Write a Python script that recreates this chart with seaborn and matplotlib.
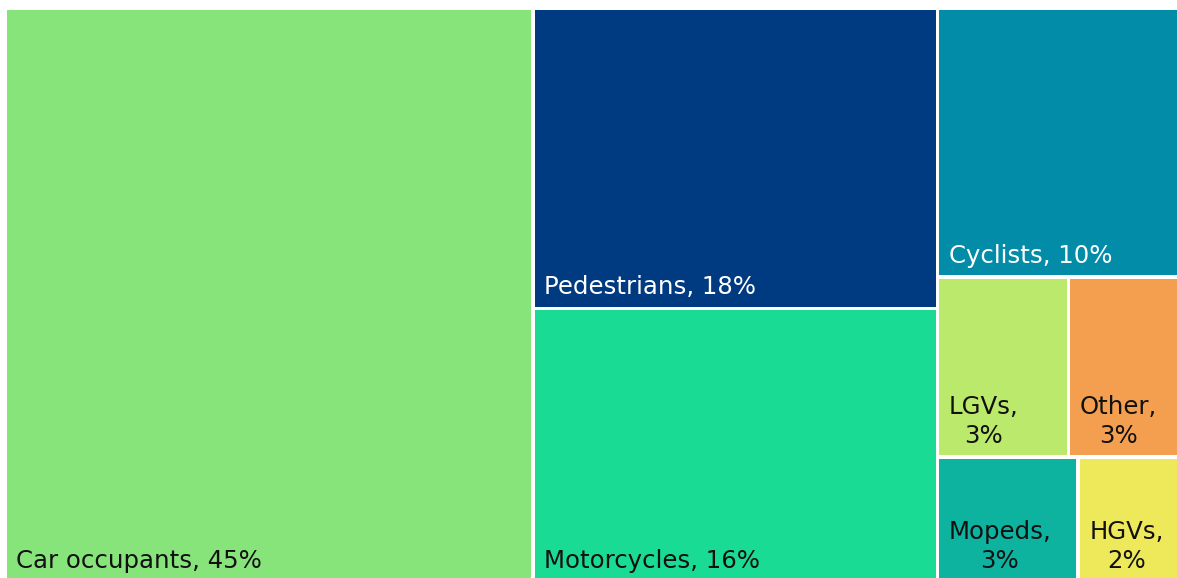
import matplotlib
matplotlib.use("Agg")
import matplotlib.pyplot as plt
from matplotlib.patches import Rectangle
import seaborn as sns

# ---- data ----
categories = ["Car occupants", "Pedestrians", "Motorcycles", "Cyclists",
              "LGVs", "Other", "Mopeds", "HGVs"]
shares = [44.9, 18.0, 16.4, 9.7, 3.5, 3.0, 2.6, 1.9]
pct_labels = ["45%", "18%", "16%", "10%", "3%", "3%", "3%", "2%"]
label_breaks = [" ", " ", " ", " ", "\n", "\n", "\n", "\n"]
colors = ["#86E47A", "#003A80", "#1ADB93", "#038CA8",
          "#BBE96B", "#F39F4F", "#0EB3A0", "#EEE85B"]
text_colors = ["#111111", "white", "#111111", "white",
               "#111111", "#111111", "#111111", "#111111"]

# ---- squarified treemap layout ----
def normalize(values, dx, dy):
    total = sum(values)
    return [v * dx * dy / total for v in values]

def layout_col(sizes, x, y, dx, dy):
    width = sum(sizes) / dy
    out = []
    for s in sizes:
        out.append((x, y, width, s / width))
        y += s / width
    return out

def layout_row(sizes, x, y, dx, dy):
    height = sum(sizes) / dx
    out = []
    for s in sizes:
        out.append((x, y, s / height, height))
        x += s / height
    return out

def layout(sizes, x, y, dx, dy):
    return layout_col(sizes, x, y, dx, dy) if dx >= dy else layout_row(sizes, x, y, dx, dy)

def leftover(sizes, x, y, dx, dy):
    covered = sum(sizes)
    if dx >= dy:
        w = covered / dy
        return x + w, y, dx - w, dy
    h = covered / dx
    return x, y + h, dx, dy - h

def worst(sizes, x, y, dx, dy):
    return max(max(r[2] / r[3], r[3] / r[2]) for r in layout(sizes, x, y, dx, dy))

def squarify(sizes, x, y, dx, dy):
    sizes = list(sizes)
    if not sizes:
        return []
    if len(sizes) == 1:
        return layout(sizes, x, y, dx, dy)
    i = 1
    while i < len(sizes) and worst(sizes[:i], x, y, dx, dy) >= worst(sizes[:i + 1], x, y, dx, dy):
        i += 1
    cur, rem = sizes[:i], sizes[i:]
    lx, ly, ldx, ldy = leftover(cur, x, y, dx, dy)
    return layout(cur, x, y, dx, dy) + squarify(rem, lx, ly, ldx, ldy)

# ---- plotting ----
sns.set_theme(style="white")
plt.rcParams["font.family"] = ["DejaVu Sans"]

W, H = 1176, 574
fig = plt.figure(figsize=(11.77, 5.78), dpi=100)
ax = fig.add_axes([0, 0, 1, 1])
ax.set_xlim(-5, 1172)
ax.set_ylim(570, -8)
ax.axis("off")

rects = squarify(normalize(shares, W, H), 0, 0, W, H)
for (x, y, w, h), cat, pct, brk, col, tcol in zip(rects, categories, pct_labels,
                                                    label_breaks, colors, text_colors):
    ax.add_patch(Rectangle((x + 1.8, y + 1.8), w - 3.6, h - 3.6, facecolor=col,
                           edgecolor="none", linewidth=0))
    ax.text(x + 11, y + h - 9, f"{cat},{brk}{pct}", ha="left", va="bottom",
            multialignment="center", fontsize=17.6, linespacing=1.25,
            color=tcol)

fig.savefig("out.png", dpi=100)
